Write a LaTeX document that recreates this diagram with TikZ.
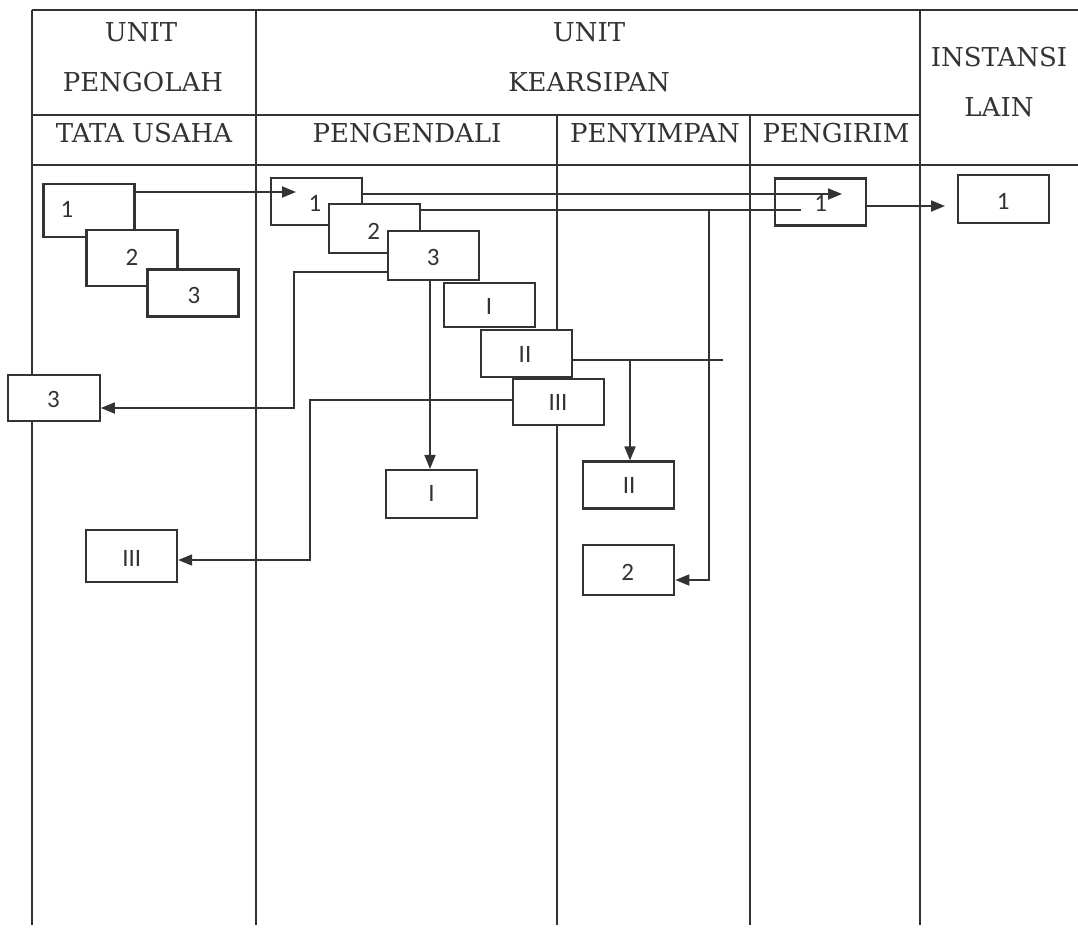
\documentclass[tikz,border=0pt]{standalone}
\usepackage{fontspec}
\setmainfont{DejaVu Serif}
\newfontfamily\boxfont{Carlito}
\usetikzlibrary{arrows.meta}
\definecolor{ink}{gray}{0.2}
\tikzset{
  grid/.style={draw=ink, line width=1.6pt},
  box/.style={draw=ink, fill=white, line width=2.1pt, inner sep=0pt, minimum width=91pt, minimum height=48pt},
  num/.style={anchor=base, inner sep=0pt, text=ink, font=\boxfont\fontsize{25}{25}\selectfont},
  head/.style={anchor=base, inner sep=0pt, text=ink, font=\fontsize{26}{26}\selectfont},
  conn/.style={draw=ink, line width=1.8pt},
  arr/.style={conn, -{Triangle[length=14pt,width=11pt]}}
}
\begin{document}
\begin{tikzpicture}[x=1pt,y=-1pt]
\useasboundingbox (0,0) rectangle (1078,927);
\fill[white] (0,0) rectangle (1078,927);
% table grid
\draw[grid] (32,10) -- (1078,10);
\draw[grid] (32,115) -- (920,115);
\draw[grid] (32,165) -- (1078,165);
\draw[grid] (32,10) -- (32,925);
\draw[grid] (256,10) -- (256,925);
\draw[grid] (557,115) -- (557,925);
\draw[grid] (750,115) -- (750,925);
\draw[grid] (920,10) -- (920,925);
% headers
\node[head] (hunit1) at (141,41) {UNIT};
\node[head] (hpeng) at (143,91) {PENGOLAH};
\node[head] (htu) at (144,142.3) {TATA USAHA};
\node[head] (hunit2) at (589,41) {UNIT};
\node[head] (hkear) at (589,91) {KEARSIPAN};
\node[head] (hpgd) at (407,142.3) {PENGENDALI};
\node[head] (hpny) at (655,142.3) {PENYIMPAN};
\node[head] (hpgr) at (836,142.3) {PENGIRIM};
\node[head] (hinst) at (999,66) {INSTANSI};
\node[head] (hlain) at (999,116) {LAIN};
% boxes: tata usaha
\node[box, minimum height=53pt] (tu1) at (89,210.7) {};
\node[num] (tu1t) at (67,217) {1};
\node[box, minimum height=56pt] (tu2) at (132,258) {};
\node[num] (tu2t) at (132,265) {2};
\node[box, minimum height=47pt] (tu3) at (193,293) {};
\node[num] (tu3t) at (194,303.5) {3};
% pengendali
\node[box, minimum height=47pt] (pg1) at (316.5,201.7) {};
\node[num] (pg1t) at (315,211.5) {1};
\node[box, minimum height=49pt] (pg2) at (374.8,228.3) {};
\node[num] (pg2t) at (373.6,239.2) {2};
\node[box, minimum height=49pt] (pg3) at (433.5,255.5) {};
\node[num] (pg3t) at (433.2,265.8) {3};
\node[box, minimum height=44pt] (pgI) at (489.8,305.3) {};
\node[num] (pgIt) at (489,314.2) {I};
\node[box, minimum height=47pt] (pgII) at (526.5,353.3) {};
\node[num] (pgIIt) at (525,362.5) {II};
\node[box, minimum height=46pt] (pgIII) at (558.3,402.2) {};
\node[num] (pgIIIt) at (558,410.8) {III};
% pengirim / instansi
\node[box, minimum height=47pt] (pgr1) at (820.7,202) {};
\node[num] (pgr1t) at (820.7,211.8) {1};
\node[box, minimum height=48pt] (inst1) at (1003.8,199.2) {};
\node[num] (inst1t) at (1003.3,209.2) {1};
% lower boxes
\node[box, minimum width=92pt, minimum height=46pt] (tu3b) at (53.8,397.8) {};
\node[num] (tu3bt) at (53.4,407.5) {3};
\node[box, minimum height=48pt] (pgIb) at (431.9,494) {};
\node[num] (pgIbt) at (431.4,501.8) {I};
\node[box, minimum height=47pt] (psII) at (628.8,485) {};
\node[num] (psIIt) at (629.2,493.5) {II};
\node[box, minimum height=50pt] (ps2) at (628.8,570) {};
\node[num] (ps2t) at (627.7,580.8) {2};
\node[box, minimum height=52pt] (tuIII) at (131.6,555.8) {};
\node[num] (tuIIIt) at (131.8,566.8) {III};
% connector waypoints
\coordinate (c1tip) at (296,192);
\coordinate (c2tip) at (842,194);
\coordinate (c3end) at (801,210);
\coordinate (c3j) at (709,210);
\coordinate (c3k) at (709,580);
\coordinate (c4tip) at (945,206);
\coordinate (c5a) at (294,272);
\coordinate (c5b) at (294,408);
\coordinate (c6x) at (430,0);
\coordinate (c7end) at (722.6,360);
\coordinate (c7j) at (630,360);
\coordinate (c8a) at (310,400);
\coordinate (c8b) at (310,560);
% connectors
\draw[arr] (tu1.east |- c1tip) -- (c1tip);
\draw[arr] (pg1.east |- c2tip) -- (c2tip);
\draw[conn] (pg2.east |- c3end) -- (c3end);
\draw[arr] (c3j) -- (c3k) -- (ps2.east |- c3k);
\draw[arr] (pgr1.east |- c4tip) -- (c4tip);
\draw[arr] (pg3.west |- c5a) -- (c5a) -- (c5b) -- (tu3b.east |- c5b);
\draw[arr] (pg3.south -| c6x) -- (pgIb.north -| c6x);
\draw[conn] (pgII.east |- c7end) -- (c7end);
\draw[arr] (c7j) -- (psII.north -| c7j);
\draw[arr] (pgIII.west |- c8a) -- (c8a) -- (c8b) -- (tuIII.east |- c8b);
\end{tikzpicture}
\end{document}
